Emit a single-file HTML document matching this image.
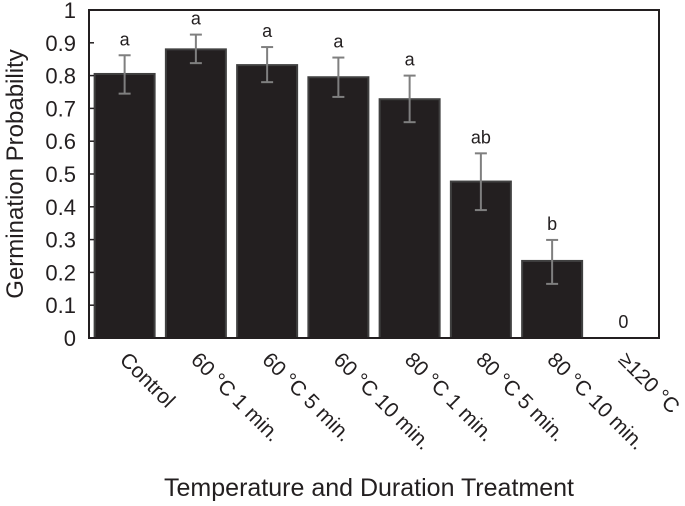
<!DOCTYPE html>
<html><head><meta charset="utf-8"><style>
body{margin:0;background:#fff;}
svg text{font-family:"Liberation Sans",sans-serif;fill:#231f20;}
</style></head><body>
<svg id="chart" width="685" height="501" xmlns="http://www.w3.org/2000/svg"></svg>
<script>
const categories=["Control","60 °C 1 min.","60 °C 5 min.","60 °C 10 min.","80 °C 1 min.","80 °C 5 min.","80 °C 10 min.","≥120 °C"];
const values=[0.805,0.88,0.832,0.795,0.728,0.477,0.235,0];
const errHigh=[0.862,0.925,0.887,0.855,0.8,0.563,0.299,null];
const errLow=[0.745,0.838,0.78,0.735,0.658,0.39,0.165,null];
const letters=["a","a","a","a","a","ab","b","0"];
const yTicks=[0,0.1,0.2,0.3,0.4,0.5,0.6,0.7,0.8,0.9,1];
const yTickLabels=["0","0.1","0.2","0.3","0.4","0.5","0.6","0.7","0.8","0.9","1"];

const NS="http://www.w3.org/2000/svg";
const svg=document.getElementById('chart');
const L=89,R=659,T=10,B=338;
const y=v=>B-(B-T)*v;
const slot=(R-L)/categories.length;
const xc=i=>L+slot*(i+0.5);
function mk(tag,attrs,parent){const e=document.createElementNS(NS,tag);for(const k in attrs)e.setAttribute(k,attrs[k]);(parent||svg).appendChild(e);return e;}

values.forEach((v,i)=>{
  if(v<=0)return;
  const r=mk('rect',{x:xc(i)-30,y:y(v),width:60,height:B-y(v),fill:'#231f20',stroke:'#404040','stroke-width':2});
  
  
});
values.forEach((v,i)=>{
  if(errHigh[i]==null)return;
  const g=mk('g',{stroke:'#7f7f7f','stroke-width':2});
  
  
  mk('line',{x1:xc(i),x2:xc(i),y1:y(errHigh[i]),y2:y(errLow[i])},g);
  mk('line',{x1:xc(i)-6,x2:xc(i)+6,y1:y(errHigh[i]),y2:y(errHigh[i])},g);
  mk('line',{x1:xc(i)-6,x2:xc(i)+6,y1:y(errLow[i]),y2:y(errLow[i])},g);
});
letters.forEach((s,i)=>{
  const top=errHigh[i]==null?y(0)-10:y(errHigh[i])-10;
  const t=mk('text',{x:xc(i),y:top,'text-anchor':'middle','font-size':18});
  t.textContent=s;
  
  
});
const f=mk('rect',{x:L,y:T,width:R-L,height:B-T,fill:'none',stroke:'#231f20','stroke-width':2});


yTicks.forEach((v,i)=>{
  mk('line',{x1:L,x2:L+5,y1:y(v),y2:y(v),stroke:'#231f20','stroke-width':1.5});
  const t=mk('text',{x:L-13,y:y(v)+8,'text-anchor':'end','font-size':22});
  t.textContent=yTickLabels[i];
  
  
});
categories.forEach((c,i)=>{
  const px=xc(i)-6,py=B+23;
  const t=mk('text',{x:px,y:py,'text-anchor':'start','font-size':21,transform:`rotate(45 ${px} ${py})`});
  t.textContent=c;
  
  
});
const yt=mk('text',{x:0,y:0,'text-anchor':'middle','font-size':24,transform:`translate(23 ${(T+B)/2}) rotate(-90)`});
yt.textContent='Germination Probability';


const xt=mk('text',{x:369,y:496,'text-anchor':'middle','font-size':25});
xt.textContent='Temperature and Duration Treatment';


</script>
</body></html>
